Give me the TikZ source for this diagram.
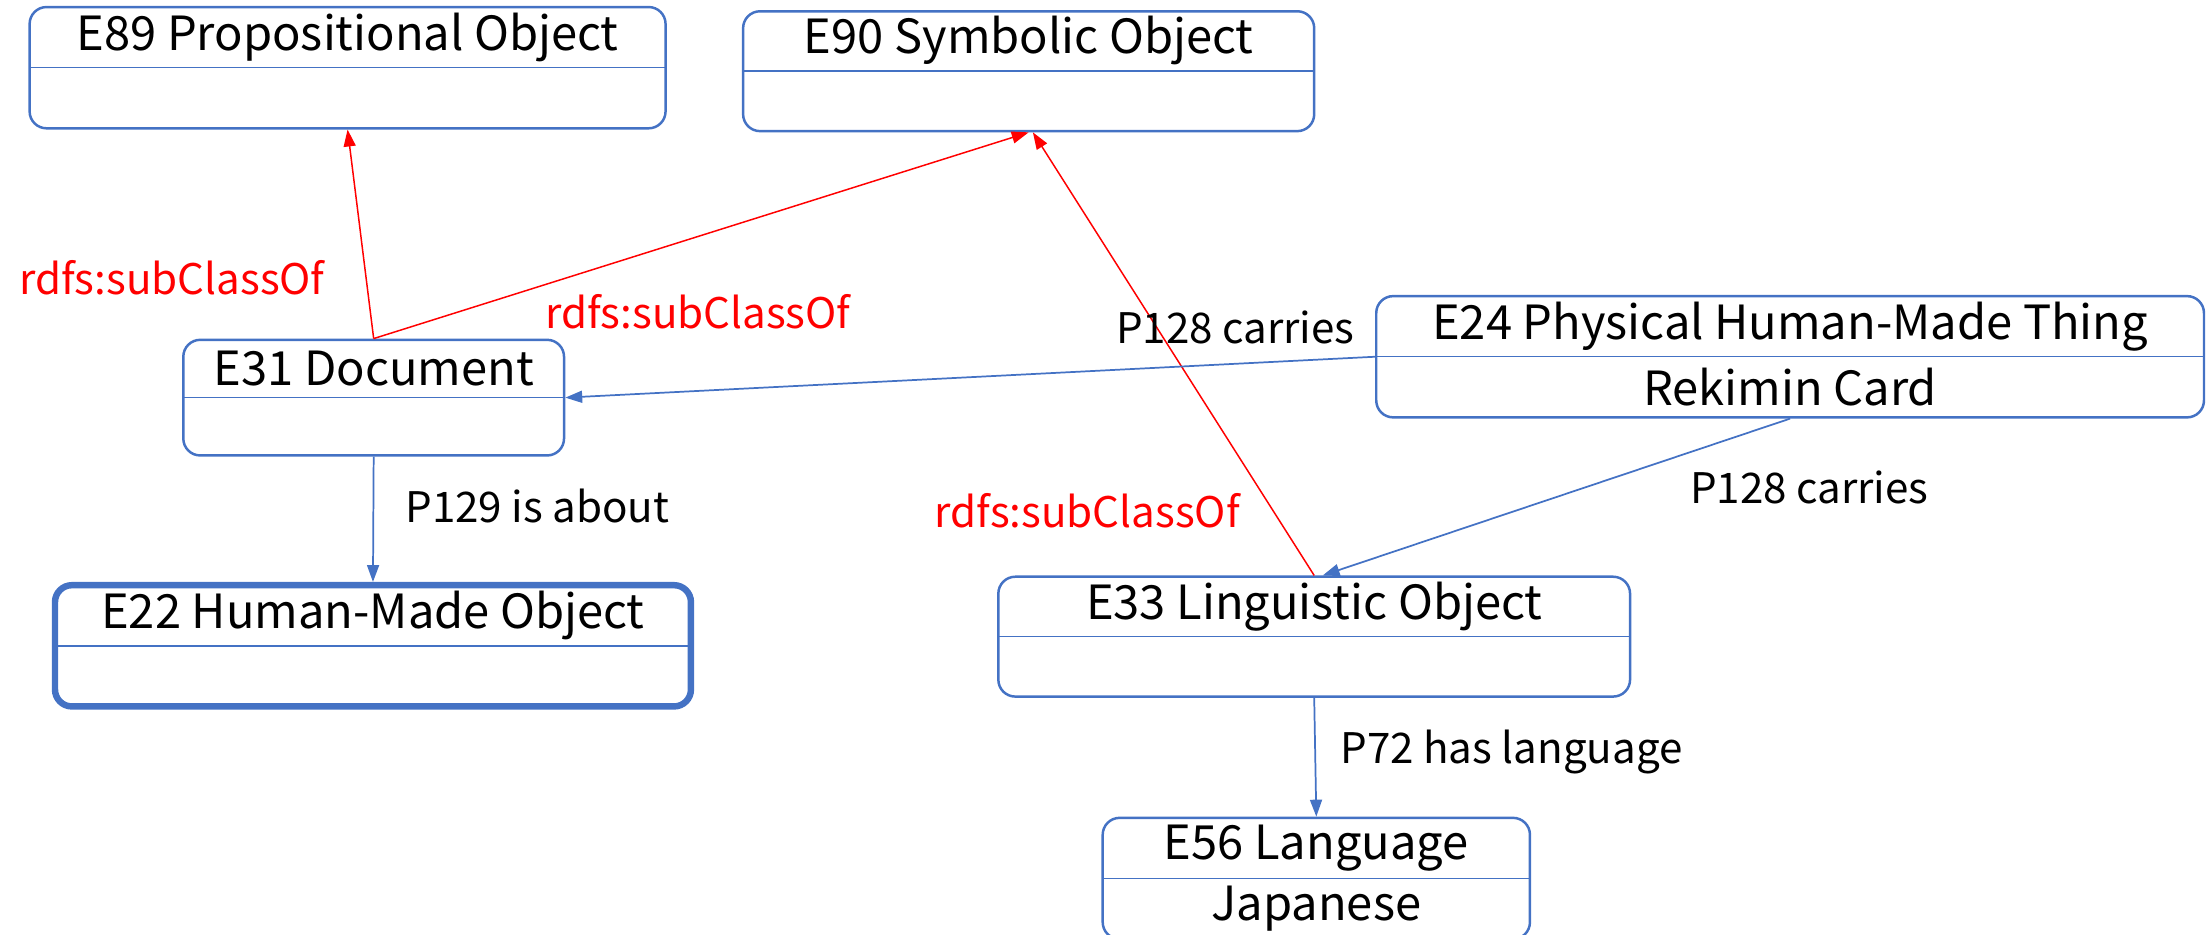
\documentclass[tikz,border=0pt]{standalone}
\usepackage{fontspec}
\setmainfont{Noto Sans CJK JP}
\usetikzlibrary{arrows.meta}
\definecolor{ublue}{HTML}{4472C4}
\begin{document}
\begin{tikzpicture}[font=\fontsize{19}{22}\selectfont,>={Triangle[length=2.4mm,width=1.7mm]},
	cls/.style={draw=ublue,line width=1pt,rounded corners=2.4mm,minimum height=1.72cm,inner sep=0pt,
		path picture={\draw[ublue,line width=0.6pt] (path picture bounding box.west)--(path picture bounding box.east);}},
	sub/.style={->,red,line width=0.6pt},
	rel/.style={->,ublue,line width=0.7pt},
	lbl/.style={font=\fontsize{17}{20}\selectfont}]
	\useasboundingbox (0,0) rectangle (31.36,-13.26);
	% classes
	\node[cls,minimum width=9.02cm] (e89) at (4.93,-0.96) {};
	\node[cls,minimum width=8.10cm,minimum height=1.70cm] (e90) at (14.59,-1.01) {};
	\node[cls,minimum width=5.40cm,minimum height=1.64cm] (e31) at (5.30,-5.64) {};
	\node[cls,minimum width=9.02cm,line width=2.6pt] (e22) at (5.29,-9.16) {};
	\node[cls,minimum width=11.74cm] (e24) at (25.39,-5.06) {};
	\node[cls,minimum width=8.96cm,minimum height=1.70cm] (e33) at (18.64,-9.03) {};
	\node[cls,minimum width=6.06cm] (e56) at (18.67,-12.46) {};
	\node (e89t) at ([yshift=0.43cm]e89.center) {E89 Propositional Object};
	\node (e90t) at ([yshift=0.43cm]e90.center) {E90 Symbolic Object};
	\node (e31t) at ([yshift=0.41cm]e31.center) {E31 Document};
	\node (e22t) at ([yshift=0.43cm]e22.center) {E22 Human-Made Object};
	\node (e24t) at ([yshift=0.43cm]e24.center) {E24 Physical Human-Made Thing};
	\node (e24v) at ([yshift=-0.43cm]e24.center) {Rekimin Card};
	\node (e33t) at ([yshift=0.43cm]e33.center) {E33 Linguistic Object};
	\node (e56t) at ([yshift=0.43cm]e56.center) {E56 Language};
	\node (e56v) at ([yshift=-0.43cm]e56.center) {Japanese};
	% subclass links
	\draw[sub] (e31.north) -- (e89.south);
	\draw[sub] (e31.north) -- (e90.south);
	\draw[sub] (e33.north) -- ([xshift=0.06cm]e90.south);
	% properties
	\draw[rel] (e24.west) -- (e31.east);
	\draw[rel] (e24.south) -- ([xshift=0.12cm]e33.north);
	\draw[rel] (e31.south) -- (e22.north);
	\draw[rel] (e33.south) -- (e56.north);
	% labels
	\node[lbl,red] (s1) at (2.44,-3.94) {rdfs:subClassOf};
	\node[lbl,red] (s2) at (9.90,-4.42) {rdfs:subClassOf};
	\node[lbl,red] (s3) at (15.42,-7.24) {rdfs:subClassOf};
	\node[lbl] (p1) at (17.52,-4.64) {P128 carries};
	\node[lbl] (p2) at (25.66,-6.92) {P128 carries};
	\node[lbl] (p3) at (7.62,-7.18) {P129 is about};
	\node[lbl] (p4) at (21.44,-10.66) {P72 has language};
\end{tikzpicture}
\end{document}
